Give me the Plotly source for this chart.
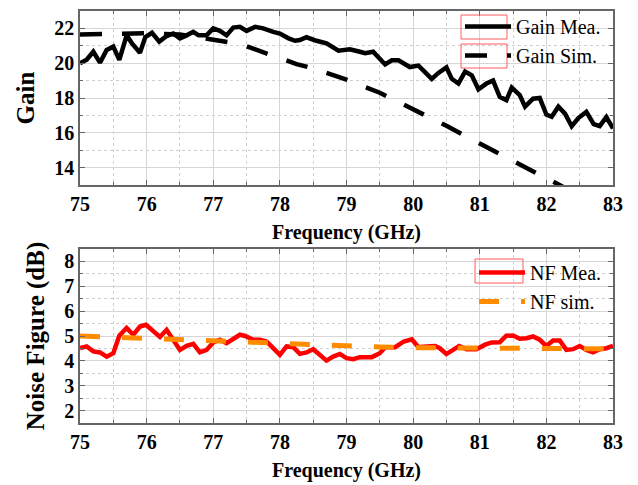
import plotly.graph_objects as go

# ---------------- data ----------------
gain_mea_x = [75.0, 75.1, 75.2, 75.3, 75.4, 75.5, 75.59, 75.7, 75.78, 75.9, 75.98, 76.08, 76.19, 76.3, 76.4,
              76.5, 76.6, 76.7, 76.78, 76.9, 77.0, 77.1, 77.2, 77.3, 77.4, 77.5, 77.63, 77.75, 77.9, 78.0,
              78.13, 78.23, 78.3, 78.4, 78.55, 78.7, 78.88, 79.05, 79.2, 79.28, 79.4, 79.58, 79.68, 79.78,
              79.95, 80.08, 80.28, 80.38, 80.5, 80.58, 80.68, 80.78, 80.88, 80.98, 81.1, 81.2, 81.3, 81.4,
              81.48, 81.6, 81.68, 81.8, 81.9, 82.0, 82.08, 82.18, 82.28, 82.38, 82.48, 82.6, 82.71, 82.8,
              82.9, 83.0]
gain_mea_y = [20.0, 20.2, 20.66, 20.03, 20.76, 20.95, 20.19, 21.6, 21.14, 20.6, 21.5, 21.75, 21.24, 21.56,
              21.71, 21.43, 21.6, 21.8, 21.6, 21.6, 22.0, 21.86, 21.6, 22.05, 22.09, 21.86, 22.09, 22.0,
              21.8, 21.7, 21.43, 21.29, 21.33, 21.49, 21.29, 21.14, 20.72, 20.8, 20.66, 20.57, 20.66, 19.93,
              20.17, 20.17, 19.78, 19.86, 19.1, 19.44, 19.76, 19.1, 18.83, 19.52, 19.3, 18.5, 18.83, 19.0,
              18.07, 17.88, 18.6, 18.17, 17.5, 17.96, 18.0, 17.05, 16.92, 17.5, 17.1, 16.38, 16.85, 17.2,
              16.5, 16.38, 16.9, 16.25]

gain_sim_x = [75.0, 75.5, 76.0, 76.5, 77.0, 77.25, 77.5, 77.75, 78.0, 78.25, 78.5, 78.75, 79.0, 79.5,
              80.0, 80.5, 81.0, 81.5, 82.0, 82.5, 83.0]
gain_sim_y = [21.65, 21.7, 21.72, 21.65, 21.35, 21.2, 20.97, 20.62, 20.3, 19.95, 19.7, 19.4, 19.05, 18.3,
              17.38, 16.4, 15.38, 14.4, 13.38, 12.4, 11.4]

nf_mea_x = [75.0, 75.1, 75.2, 75.3, 75.4, 75.5, 75.59, 75.7, 75.8, 75.9, 75.99, 76.1, 76.2, 76.3, 76.4,
            76.5, 76.6, 76.7, 76.8, 76.9, 77.0, 77.1, 77.2, 77.3, 77.4, 77.48, 77.6, 77.7, 77.8, 77.9,
            78.0, 78.1, 78.2, 78.3, 78.4, 78.5, 78.6, 78.7, 78.8, 78.9, 79.0, 79.1, 79.2, 79.38, 79.5,
            79.58, 79.73, 79.86, 79.98, 80.08, 80.2, 80.33, 80.4, 80.5, 80.6, 80.69, 80.8, 80.95, 81.08,
            81.18, 81.3, 81.4, 81.5, 81.6, 81.7, 81.8, 81.9, 82.0, 82.1, 82.2, 82.3, 82.4, 82.5, 82.6,
            82.7, 82.8, 82.9, 83.0]
nf_mea_y = [4.51, 4.58, 4.38, 4.34, 4.17, 4.31, 5.01, 5.32, 5.05, 5.38, 5.45, 5.18, 4.96, 5.25, 4.85,
            4.44, 4.6, 4.68, 4.34, 4.44, 4.74, 4.85, 4.71, 4.87, 5.05, 5.0, 4.85, 4.85, 4.78, 4.51,
            4.24, 4.58, 4.55, 4.28, 4.34, 4.47, 4.24, 4.01, 4.17, 4.28, 4.11, 4.07, 4.15, 4.15, 4.31,
            4.55, 4.55, 4.78, 4.87, 4.55, 4.58, 4.6, 4.51, 4.28, 4.44, 4.6, 4.47, 4.47, 4.65,
            4.74, 4.75, 5.01, 5.02, 4.89, 4.91, 4.98, 4.85, 4.6, 4.82, 4.82, 4.44, 4.47, 4.6, 4.44,
            4.34, 4.47, 4.51, 4.6]

nf_sim_x = [75.0, 75.5, 76.0, 76.5, 77.0, 77.5, 78.0, 78.5, 79.0, 79.5, 80.0, 80.5, 81.0, 81.5, 82.0,
            82.5, 83.0]
nf_sim_y = [5.0, 4.95, 4.9, 4.84, 4.76, 4.71, 4.66, 4.63, 4.6, 4.56, 4.53, 4.52, 4.51, 4.5, 4.48,
            4.48, 4.48]

x_title = "Frequency (GHz)"
gain_title = "Gain"
nf_title = "Noise Figure (dB)"

# ---------------- figure ----------------
W, H = 638, 485
ML, MR, MT, MB = 80, 25, 11, 62
PW, PH = W - ML - MR, H - MT - MB


def fx(px):
    return (px - ML) / PW


def fy(py):
    return (H - MB - py) / PH


SERIF = "Liberation Serif, 'Times New Roman', Times, serif"

fig = go.Figure()
fig.add_trace(go.Scatter(x=gain_mea_x, y=gain_mea_y, name="Gain Mea.", mode="lines",
                         line=dict(color="black", width=4.5), xaxis="x", yaxis="y", legend="legend"))
fig.add_trace(go.Scatter(x=gain_sim_x, y=gain_sim_y, name="Gain Sim.", mode="lines",
                         line=dict(color="black", width=4.5, dash="22px,20px"), xaxis="x", yaxis="y",
                         legend="legend"))
fig.add_trace(go.Scatter(x=nf_mea_x, y=nf_mea_y, name="NF Mea.", mode="lines",
                         line=dict(color="#ff0000", width=4.5), xaxis="x2", yaxis="y2", legend="legend2"))
fig.add_trace(go.Scatter(x=nf_sim_x, y=nf_sim_y, name="NF sim.", mode="lines",
                         line=dict(color="#ff8c00", width=5, dash="20px,22px"), xaxis="x2", yaxis="y2",
                         legend="legend2"))

tickfont = dict(family=SERIF, size=20, color="black", weight="bold")
common = dict(showline=True, linecolor="#666666", linewidth=1.5, mirror="allticks",
              ticks="inside", ticklen=5, tickcolor="#666666", tickwidth=1,
              showgrid=True, gridcolor="#d6d6d6", gridwidth=1, zeroline=False,
              tickfont=tickfont, tickprefix="<b>", ticksuffix="</b>")

xcommon = dict(common, range=[75, 83], dtick=1, tick0=75,
               minor=dict(dtick=0.5, ticks="inside", ticklen=3, tickcolor="#666666",
                          showgrid=True, griddash="dot", gridcolor="#cfcfcf", gridwidth=1),
               title=dict(text="<b>" + x_title + "</b>",
                          font=dict(family=SERIF, size=20, color="black", weight="bold"),
                          standoff=11))

legfont = dict(family=SERIF, size=20, color="black", weight="normal")

fig.update_layout(
    width=W, height=H,
    margin=dict(l=ML, r=MR, t=MT, b=MB, autoexpand=False),
    paper_bgcolor="white", plot_bgcolor="white",
    xaxis=dict(xcommon, domain=[0, 1], anchor="y"),
    yaxis=dict(common, domain=[fy(185), 1], anchor="x", range=[13, 23], dtick=2, tick0=0,
               minor=dict(dtick=1, ticks="inside", ticklen=3, tickcolor="#666666",
                          showgrid=True, griddash="dot", gridcolor="#cfcfcf", gridwidth=1),
               title=dict(text="<b>" + gain_title + "</b>",
                          font=dict(family=SERIF, size=25, color="black", weight="bold"),
                          standoff=13)),
    xaxis2=dict(xcommon, domain=[0, 1], anchor="y2"),
    yaxis2=dict(common, domain=[0, fy(249)], anchor="x2", range=[1.5, 8.5], dtick=1, tick0=0,
                minor=dict(dtick=0.5, ticks="inside", ticklen=3, tickcolor="#666666",
                           showgrid=True, griddash="dot", gridcolor="#cfcfcf", gridwidth=1),
                title=dict(text="<b>" + nf_title + "</b>",
                           font=dict(family=SERIF, size=25, color="black", weight="bold"),
                           standoff=13)),
    legend=dict(x=fx(460), y=fy(7), xanchor="left", yanchor="top", bgcolor="rgba(0,0,0,0)",
                itemwidth=46, font=legfont),
    legend2=dict(x=fx(474), y=fy(253), xanchor="left", yanchor="top", bgcolor="rgba(0,0,0,0)",
                 itemwidth=46, font=legfont),
    showlegend=True,
)

# red boxes around legend symbols (as in the reference)
for (x0, x1, y0, y1) in [(461, 507, 15, 39), (461, 507, 44, 68), (475, 523, 259, 283)]:
    fig.add_shape(type="rect", xref="paper", yref="paper", x0=fx(x0), x1=fx(x1), y0=fy(y1), y1=fy(y0),
                  line=dict(color="#ff5a5a", width=1), fillcolor="rgba(0,0,0,0)")

fig.write_html("out.html")
